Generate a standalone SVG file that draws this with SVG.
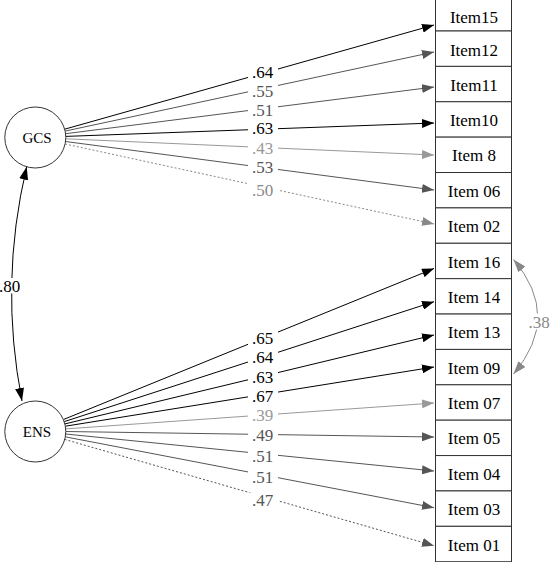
<svg xmlns="http://www.w3.org/2000/svg" width="550" height="562" viewBox="0 0 550 562">
<style>
text{font-family:"Liberation Serif","Times New Roman",serif;}
.it{font-size:17px;text-anchor:middle;fill:#000;}
.lv{font-size:15px;text-anchor:middle;fill:#000;}
.lb{font-size:17px;text-anchor:middle;}
.box{fill:#fff;stroke:#333;stroke-width:1;}
.circ{fill:#fff;stroke:#333;stroke-width:1;}
.bg{fill:#fff;}
.c{fill:none;stroke-width:1;}
.k{stroke:#000;}
.d{stroke:#555;}
.l{stroke:#999;}
.m{stroke:#888;}
.dash{stroke-dasharray:2,2;}
</style>
<defs>
<marker id="aK" viewBox="0 0 12 9" refX="12" refY="4.5" markerWidth="12" markerHeight="9" markerUnits="userSpaceOnUse" orient="auto"><path d="M0,0 L12,4.5 L0,9 z" fill="#000"/></marker>
<marker id="aD" viewBox="0 0 12 9" refX="12" refY="4.5" markerWidth="12" markerHeight="9" markerUnits="userSpaceOnUse" orient="auto"><path d="M0,0 L12,4.5 L0,9 z" fill="#555"/></marker>
<marker id="aL" viewBox="0 0 12 9" refX="12" refY="4.5" markerWidth="12" markerHeight="9" markerUnits="userSpaceOnUse" orient="auto"><path d="M0,0 L12,4.5 L0,9 z" fill="#999"/></marker>
<marker id="aM" viewBox="0 0 12 9" refX="12" refY="4.5" markerWidth="12" markerHeight="9" markerUnits="userSpaceOnUse" orient="auto"><path d="M0,0 L12,4.5 L0,9 z" fill="#888"/></marker>
<marker id="cK" viewBox="0 0 13 9" refX="13" refY="4.5" markerWidth="13" markerHeight="9" markerUnits="userSpaceOnUse" orient="auto-start-reverse"><path d="M0,0 L13,4.5 L0,9 z" fill="#000"/></marker>
<marker id="cM" viewBox="0 0 13 9" refX="13" refY="4.5" markerWidth="13" markerHeight="9" markerUnits="userSpaceOnUse" orient="auto-start-reverse"><path d="M0,0 L13,4.5 L0,9 z" fill="#888"/></marker>
</defs>

<g id="connectors">
  <!-- GCS loadings -->
  <line class="c k" x1="64.65" y1="129.2" x2="434" y2="25" marker-end="url(#aK)"/>
  <line class="c d" x1="65.1" y1="131.1" x2="434" y2="52" marker-end="url(#aD)"/>
  <line class="c d" x1="65.6" y1="133.7" x2="434" y2="87" marker-end="url(#aD)"/>
  <line class="c k" x1="65.8" y1="136.4" x2="434" y2="123" marker-end="url(#aK)"/>
  <line class="c l" x1="65.8" y1="138.8" x2="434" y2="155" marker-end="url(#aL)"/>
  <line class="c d" x1="65.5" y1="141.5" x2="434" y2="190" marker-end="url(#aD)"/>
  <line class="c m dash" x1="65.1" y1="144" x2="434" y2="224" marker-end="url(#aM)"/>
  <!-- ENS loadings -->
  <line class="c k" x1="63.5" y1="419.5" x2="434" y2="268.5" marker-end="url(#aK)"/>
  <line class="c k" x1="64.3" y1="421.6" x2="434" y2="301.7" marker-end="url(#aK)"/>
  <line class="c k" x1="64.9" y1="423.9" x2="434" y2="335" marker-end="url(#aK)"/>
  <line class="c k" x1="65.4" y1="426.2" x2="434" y2="367" marker-end="url(#aK)"/>
  <line class="c l" x1="65.7" y1="428.9" x2="434" y2="403" marker-end="url(#aL)"/>
  <line class="c d" x1="65.8" y1="431.5" x2="434" y2="437" marker-end="url(#aD)"/>
  <line class="c d" x1="65.6" y1="434" x2="434" y2="471" marker-end="url(#aD)"/>
  <line class="c d" x1="65.2" y1="436.8" x2="434" y2="507.7" marker-end="url(#aD)"/>
  <line class="c d dash" x1="64.6" y1="439.4" x2="434" y2="545.7" marker-end="url(#aD)"/>
  <!-- covariances -->
  <path class="c k" d="M26.7,166.7 Q-1,283 22,401" marker-start="url(#cK)" marker-end="url(#cK)"/>
  <path class="c m" d="M513.5,259.5 Q562,316.7 513.5,374" marker-start="url(#cM)" marker-end="url(#cM)"/>

  <!-- labels with white backing -->
  <g>
    <rect class="bg" x="248" y="65" width="30" height="15"/><text class="lb" x="262.5" y="78.3" fill="#000">.64</text>
    <rect class="bg" x="248" y="83.5" width="30" height="15"/><text class="lb" x="262.5" y="96.8" fill="#555">.55</text>
    <rect class="bg" x="248" y="102.5" width="30" height="15"/><text class="lb" x="262.5" y="115.8" fill="#555">.51</text>
    <rect class="bg" x="248" y="120.5" width="30" height="15"/><text class="lb" x="262.5" y="133.8" fill="#000">.63</text>
    <rect class="bg" x="248" y="140.5" width="30" height="15"/><text class="lb" x="262.5" y="153.8" fill="#999">.43</text>
    <rect class="bg" x="248" y="159.5" width="30" height="15"/><text class="lb" x="262.5" y="172.8" fill="#555">.53</text>
    <rect class="bg" x="248" y="182.5" width="30" height="15"/><text class="lb" x="262.5" y="195.8" fill="#888">.50</text>

    <rect class="bg" x="248" y="330.5" width="30" height="15"/><text class="lb" x="262.5" y="343.8" fill="#000">.65</text>
    <rect class="bg" x="248" y="349.2" width="30" height="15"/><text class="lb" x="262.5" y="362.5" fill="#000">.64</text>
    <rect class="bg" x="248" y="369.2" width="30" height="15"/><text class="lb" x="262.5" y="382.5" fill="#000">.63</text>
    <rect class="bg" x="248" y="388.5" width="30" height="15"/><text class="lb" x="262.5" y="401.8" fill="#000">.67</text>
    <rect class="bg" x="248" y="407.5" width="30" height="15"/><text class="lb" x="262.5" y="420.8" fill="#999">.39</text>
    <rect class="bg" x="248" y="427.5" width="30" height="15"/><text class="lb" x="262.5" y="440.8" fill="#555">.49</text>
    <rect class="bg" x="248" y="448.7" width="30" height="15"/><text class="lb" x="262.5" y="462" fill="#555">.51</text>
    <rect class="bg" x="248" y="469.2" width="30" height="15"/><text class="lb" x="262.5" y="482.5" fill="#555">.51</text>
    <rect class="bg" x="248" y="492.5" width="30" height="15"/><text class="lb" x="262.5" y="505.8" fill="#555">.47</text>

    <rect class="bg" x="0" y="278" width="21" height="15.5"/><text class="lb" x="9.5" y="291.7" fill="#000">.80</text>
    <rect class="bg" x="527" y="313.5" width="23" height="16"/><text class="lb" x="539" y="327.5" fill="#888">.38</text>
  </g>
</g>

<g id="GCS"><circle class="circ" cx="35.3" cy="137.5" r="30.5"/><text class="lv" x="37" y="143.3">GCS</text></g>
<g id="ENS"><circle class="circ" cx="35.3" cy="431.5" r="30.5"/><text class="lv" x="37" y="436.7">ENS</text></g>

<g id="Item15"><rect class="box" x="435.5" y="-5" width="76" height="36"/><text class="it" x="474" y="23.3">Item15</text></g>
<g id="Item12"><rect class="box" x="435.5" y="31" width="76" height="35.38"/><text class="it" x="474" y="55.5">Item12</text></g>
<g id="Item11"><rect class="box" x="435.5" y="66.38" width="76" height="35.38"/><text class="it" x="474" y="90.6">Item11</text></g>
<g id="Item10"><rect class="box" x="435.5" y="101.76" width="76" height="35.38"/><text class="it" x="474" y="126">Item10</text></g>
<g id="Item8"><rect class="box" x="435.5" y="137.14" width="76" height="35.38"/><text class="it" x="474" y="161.3">Item 8</text></g>
<g id="Item06"><rect class="box" x="435.5" y="172.52" width="76" height="35.38"/><text class="it" x="474" y="196.7">Item 06</text></g>
<g id="Item02"><rect class="box" x="435.5" y="207.9" width="76" height="35.38"/><text class="it" x="474" y="232.1">Item 02</text></g>
<g id="Item16"><rect class="box" x="435.5" y="243.28" width="76" height="35.38"/><text class="it" x="474" y="267.5">Item 16</text></g>
<g id="Item14"><rect class="box" x="435.5" y="278.66" width="76" height="35.38"/><text class="it" x="474" y="302.9">Item 14</text></g>
<g id="Item13"><rect class="box" x="435.5" y="314.04" width="76" height="35.38"/><text class="it" x="474" y="338.2">Item 13</text></g>
<g id="Item09"><rect class="box" x="435.5" y="349.42" width="76" height="35.38"/><text class="it" x="474" y="373.6">Item 09</text></g>
<g id="Item07"><rect class="box" x="435.5" y="384.8" width="76" height="35.38"/><text class="it" x="474" y="409">Item 07</text></g>
<g id="Item05"><rect class="box" x="435.5" y="420.18" width="76" height="35.38"/><text class="it" x="474" y="444.4">Item 05</text></g>
<g id="Item04"><rect class="box" x="435.5" y="455.56" width="76" height="35.38"/><text class="it" x="474" y="479.8">Item 04</text></g>
<g id="Item03"><rect class="box" x="435.5" y="490.94" width="76" height="35.38"/><text class="it" x="474" y="515.1">Item 03</text></g>
<g id="Item01"><rect class="box" x="435.5" y="526.32" width="76" height="35.38"/><text class="it" x="474" y="550.5">Item 01</text></g>
</svg>
